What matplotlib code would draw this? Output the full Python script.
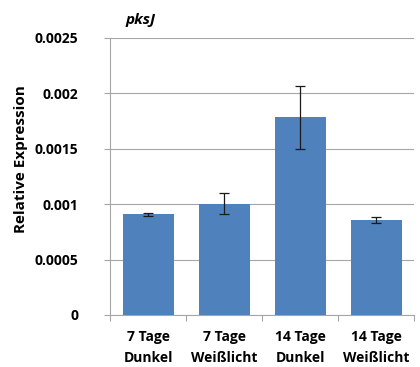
import numpy as np
from matplotlib import pyplot as plt

categories = ['7 Tage\nDunkel', '7 Tage\nWeißlicht', '14 Tage\nDunkel', '14 Tage\nWeißlicht']
expression = [0.000907, 0.001003, 0.00178, 0.000858]
errors = [0.000013, 0.0000965, 0.000285, 0.000027]
y_ticks = [0, 0.0005, 0.001, 0.0015, 0.002, 0.0025]
y_labels = ['0', '0.0005', '0.001', '0.0015', '0.002', '0.0025']

plt.rcParams['font.family'] = ['Open Sans', 'DejaVu Sans']

fig = plt.figure(figsize=(4.2, 3.67), dpi=100)
ax = fig.add_axes([0.262, 0.1417, 0.724, 0.756])

x = np.arange(len(categories))
ax.bar(x, expression, width=0.67, color='#4F81BD', zorder=3,
       yerr=errors, error_kw=dict(ecolor='#1a1a1a', elinewidth=0.9, capsize=3.5, capthick=0.9, zorder=4))

ax.set_xlim(-0.5, len(categories) - 0.5)
ax.set_ylim(0, 0.0025)
ax.set_yticks(y_ticks)
ax.set_yticklabels(y_labels, fontsize=10, fontweight='bold')
ax.yaxis.grid(True, color='#a6a6a6', linewidth=0.8, zorder=0)
ax.tick_params(axis='y', length=4, color='#a6a6a6', pad=19)

ax.set_xticks(np.arange(len(categories) + 1) - 0.5)
ax.set_xticklabels([])
ax.set_xticks(x, minor=True)
ax.set_xticklabels(categories, minor=True, fontsize=10, fontweight='bold', linespacing=1.6)
ax.tick_params(axis='x', which='major', length=4, color='#a6a6a6')
ax.tick_params(axis='x', which='minor', length=0, pad=11)

for s in ['top', 'right']:
    ax.spines[s].set_visible(False)
for s in ['left', 'bottom']:
    ax.spines[s].set_color('#a6a6a6')
    ax.spines[s].set_linewidth(0.8)

ax.set_ylabel('Relative Expression', fontsize=11, fontweight='bold')
ax.yaxis.set_label_coords(-0.27, 0.562)
fig.text(0.298, 0.945, 'pksJ', fontsize=11, fontweight='bold', style='italic', ha='left', va='center')

fig.savefig('out.png', dpi=100)
